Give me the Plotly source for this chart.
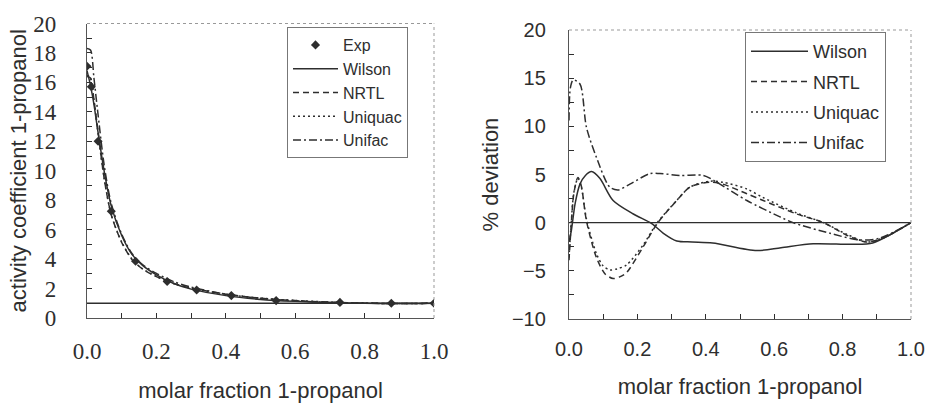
import plotly.graph_objects as go

# ---- experimental activity coefficients of 1-propanol ----
x_exp = [0.0, 0.0125, 0.032, 0.070, 0.140, 0.231, 0.316, 0.416, 0.545, 0.729, 0.877, 1.0]
gamma_exp = [17.1, 15.7, 12.0, 7.25, 3.85, 2.48, 1.9, 1.52, 1.18, 1.06, 1.0, 1.0]

# ---- model activity coefficients ----
x_model = [0.0, 0.01, 0.02, 0.03, 0.05, 0.07, 0.10, 0.13, 0.16, 0.20, 0.25,
           0.30, 0.40, 0.50, 0.60, 0.70, 0.80, 0.90, 1.0]
gamma_wilson = [16.8, 15.8, 14.5, 12.9, 9.9, 7.6, 5.6, 4.3, 3.57, 2.93, 2.34,
                1.96, 1.52, 1.26, 1.13, 1.05, 1.0, 0.98, 1.0]
gamma_nrtl = [16.4, 16.3, 14.8, 13.0, 9.4, 7.0, 5.13, 3.96, 3.33, 2.81, 2.34,
              2.03, 1.62, 1.34, 1.18, 1.08, 1.01, 0.98, 1.0]
gamma_uniquac = [16.5, 16.3, 14.8, 12.9, 9.4, 7.0, 5.16, 3.99, 3.34, 2.82, 2.34,
                 2.03, 1.62, 1.35, 1.19, 1.08, 1.01, 0.98, 1.0]
gamma_unifac = [18.3, 18.2, 16.3, 14.2, 10.3, 7.76, 5.69, 4.36, 3.63, 3.03, 2.47,
                2.1, 1.62, 1.34, 1.17, 1.06, 1.0, 0.98, 1.0]
gamma_ideal = 1.0

# ---- % deviation of each model ----
x_wilson_dev = [0.0, 0.007, 0.018, 0.032, 0.048, 0.066, 0.09, 0.129, 0.188, 0.242,
                0.276, 0.315, 0.36, 0.42, 0.549, 0.62, 0.714, 0.83, 0.888, 0.947, 1.0]
dev_wilson = [-2.0, -0.8, 2.0, 4.0, 4.9, 5.3, 4.6, 2.3, 0.9, -0.1,
              -1.1, -1.9, -2.0, -2.1, -2.9, -2.6, -2.2, -2.25, -2.1, -1.1, 0.0]

x_nrtl_dev = [0.0, 0.006, 0.014, 0.026, 0.036, 0.051, 0.08, 0.105, 0.129, 0.15, 0.168,
              0.217, 0.258, 0.315, 0.354, 0.412, 0.45, 0.52, 0.568, 0.666, 0.744,
              0.812, 0.87, 0.918, 1.0]
dev_nrtl = [-3.9, -0.5, 3.0, 4.7, 3.8, 0.2, -3.6, -5.3, -5.8, -5.6, -5.2,
            -2.5, -0.1, 2.3, 3.7, 4.2, 4.0, 3.0, 2.3, 0.9, 0.0,
            -1.3, -2.0, -1.6, 0.0]

x_uniquac_dev = [0.0, 0.006, 0.014, 0.026, 0.036, 0.051, 0.08, 0.10, 0.119, 0.14, 0.168,
                 0.217, 0.258, 0.315, 0.354, 0.412, 0.45, 0.52, 0.568, 0.666, 0.744,
                 0.812, 0.87, 0.918, 1.0]
dev_uniquac = [-3.6, -0.3, 3.1, 4.6, 3.7, 0.4, -3.2, -4.5, -4.9, -4.8, -4.4,
               -2.3, 0.0, 2.3, 3.7, 4.3, 4.2, 3.5, 2.6, 1.0, 0.0,
               -1.2, -2.0, -1.6, 0.0]

x_unifac_dev = [0.0, 0.004, 0.012, 0.032, 0.051, 0.08, 0.119, 0.144, 0.178, 0.237,
                0.266, 0.325, 0.393, 0.432, 0.52, 0.617, 0.655, 0.763, 0.85, 0.909, 1.0]
dev_unifac = [10.6, 14.0, 14.8, 14.4, 9.9, 6.8, 3.7, 3.4, 4.0, 5.1,
              5.1, 4.9, 4.9, 4.2, 2.3, 0.6, 0.0, -1.1, -1.8, -1.6, 0.0]
dev_zero = 0.0

# ---- styling ----
INK = "#2e2e2e"
SANS = "Liberation Sans, Arial, sans-serif"
SERIF = "Liberation Serif, Times New Roman, serif"
DASHES = {"Wilson": "solid", "NRTL": "6px,4px", "Uniquac": "2px,3px", "Unifac": "8px,3px,2px,3px"}

W, H = 933, 404


def px(v):
    return v / W


def py(v):
    return (H - v) / H


fig = go.Figure()

# left panel: activity coefficients
fig.add_trace(go.Scatter(
    x=x_exp, y=gamma_exp, mode="markers", name="Exp",
    marker=dict(symbol="diamond", size=7, color=INK),
    xaxis="x", yaxis="y", legend="legend", legendgroup="e"))
for name, vals in [("Wilson", gamma_wilson), ("NRTL", gamma_nrtl),
                   ("Uniquac", gamma_uniquac), ("Unifac", gamma_unifac)]:
    fig.add_trace(go.Scatter(
        x=x_model, y=vals, mode="lines", name=name,
        line=dict(color=INK, width=1.5, dash=DASHES[name], shape="spline", smoothing=0.8),
        xaxis="x", yaxis="y", legend="legend", legendgroup="l" + name))

# right panel: % deviations
for name, xs, vals in [("Wilson", x_wilson_dev, dev_wilson), ("NRTL", x_nrtl_dev, dev_nrtl),
                       ("Uniquac", x_uniquac_dev, dev_uniquac), ("Unifac", x_unifac_dev, dev_unifac)]:
    fig.add_trace(go.Scatter(
        x=xs, y=vals, mode="lines", name=name,
        line=dict(color=INK, width=1.5, dash=DASHES[name], shape="spline", smoothing=0.8),
        xaxis="x2", yaxis="y2", legend="legend2", legendgroup="r" + name))

fig.add_hline(y=gamma_ideal, line=dict(color=INK, width=1.3), xref="x", yref="y")
fig.add_hline(y=dev_zero, line=dict(color=INK, width=1.3), xref="x2", yref="y2")

# light dotted top/right frame edges
for xr, yr in [("x domain", "y domain"), ("x2 domain", "y2 domain")]:
    fig.add_shape(type="line", xref=xr, yref=yr, x0=0, x1=1, y0=1, y1=1,
                  line=dict(color="#999", width=1, dash="dot"))
    fig.add_shape(type="line", xref=xr, yref=yr, x0=1, x1=1, y0=0, y1=1,
                  line=dict(color="#999", width=1, dash="dot"))

common_x = dict(range=[0, 1], dtick=0.2, tickformat=".1f", ticks="inside", ticklen=5,
                tickcolor=INK, showline=True, linecolor="#555", linewidth=1.3,
                showgrid=False, zeroline=False, automargin=False,
                minor=dict(dtick=0.1, ticks="inside", ticklen=5, tickcolor=INK),
                ticklabelstandoff=12,
                title=dict(text="molar fraction 1-propanol", font=dict(family=SANS, size=22, color=INK),
                           standoff=19))

fig.update_layout(
    width=W, height=H, margin=dict(l=0, r=0, t=0, b=0, autoexpand=False),
    paper_bgcolor="white", plot_bgcolor="white",
    xaxis=dict(common_x, domain=[px(87), px(434)], anchor="y",
               tickfont=dict(family=SERIF, size=23, color=INK)),
    yaxis=dict(domain=[py(318), py(23.5)], anchor="x", range=[0, 20], dtick=2,
               ticks="inside", ticklen=5, tickcolor=INK, showline=True, linecolor="#555",
               linewidth=1.3, showgrid=False, zeroline=False, automargin=False,
               minor=dict(dtick=1, ticks="inside", ticklen=5, tickcolor=INK),
               ticklabelstandoff=25,
               tickfont=dict(family=SERIF, size=23, color=INK),
               title=dict(text="activity coefficient 1-propanol",
                          font=dict(family=SANS, size=22, color=INK), standoff=0)),
    xaxis2=dict(common_x, domain=[px(569), px(911)], anchor="y2",
                tickfont=dict(family=SANS, size=20, color=INK)),
    yaxis2=dict(domain=[py(319), py(30)], anchor="x2", range=[-10, 20], dtick=5,
                ticks="inside", ticklen=5, tickcolor=INK, showline=True, linecolor="#555",
                linewidth=1.3, showgrid=False, zeroline=False, automargin=False,
                minor=dict(dtick=2.5, ticks="inside", ticklen=5, tickcolor=INK),
                ticklabelstandoff=18,
                tickfont=dict(family=SANS, size=20, color=INK),
                title=dict(text="% deviation", font=dict(family=SANS, size=22, color=INK),
                           standoff=7)),
    legend=dict(x=px(287), y=py(27), xanchor="left", yanchor="top",
                bordercolor="#777", borderwidth=1, bgcolor="white",
                font=dict(family=SANS, size=16, color=INK), itemwidth=45,
                traceorder="grouped", tracegroupgap=0),
    legend2=dict(x=px(745), y=py(32), xanchor="left", yanchor="top",
                 bordercolor="#777", borderwidth=1, bgcolor="white",
                 font=dict(family=SANS, size=18, color=INK), itemwidth=57,
                 traceorder="grouped", tracegroupgap=4),
)

fig.write_html("out.html")
